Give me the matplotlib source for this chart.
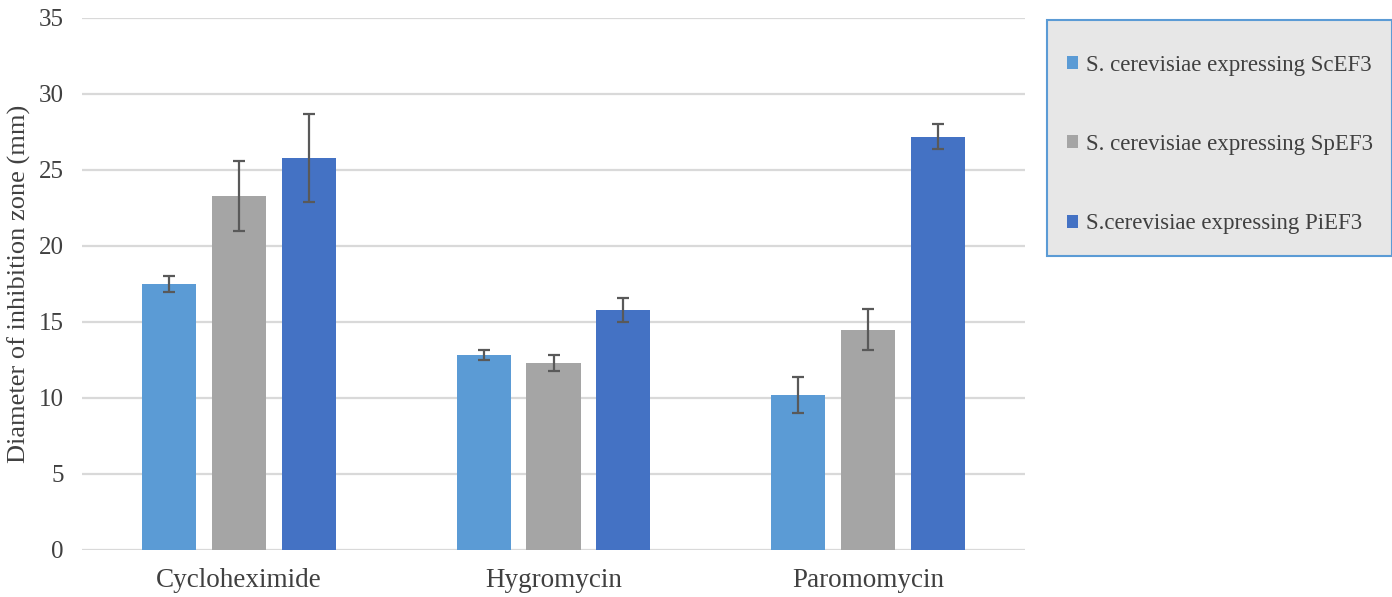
import matplotlib
matplotlib.use("Agg")
import matplotlib.pyplot as plt
from matplotlib.patches import Rectangle, Patch
import numpy as np

plt.rcParams["font.family"] = ["Liberation Serif", "DejaVu Serif"]

# data
categories = ["Cycloheximide", "Hygromycin", "Paromomycin"]
series = ["S. cerevisiae expressing ScEF3",
          "S. cerevisiae expressing SpEF3",
          "S.cerevisiae expressing PiEF3"]
sc_vals = [17.5, 12.8, 10.2]
sc_err = [0.5, 0.33, 1.2]
sp_vals = [23.3, 12.3, 14.5]
sp_err = [2.3, 0.55, 1.35]
pi_vals = [25.8, 15.8, 27.2]
pi_err = [2.9, 0.8, 0.8]
colors = ["#5B9BD5", "#A5A5A5", "#4472C4"]

fig = plt.figure(figsize=(13.92, 5.97), dpi=100)
ax = fig.add_axes([82 / 1392, 1 - 550 / 597, (1025 - 82) / 1392, (550 - 18) / 597])

x = np.arange(len(categories))
width = 0.172
step = 0.222
text_col = "#404040"

for i, (vals, errs) in enumerate([(sc_vals, sc_err), (sp_vals, sp_err), (pi_vals, pi_err)]):
    ax.bar(x + (i - 1) * step, vals, width, color=colors[i], zorder=2,
           yerr=errs, error_kw=dict(ecolor="#595959", elinewidth=1.6,
                                    capsize=4, capthick=1.6, zorder=3))

ax.set_xlim(-0.5, 2.5)
ax.set_ylim(0, 35)
ax.set_yticks(range(0, 36, 5))
ax.set_xticks(x)
ax.set_xticklabels(categories, fontsize=19.5)
ax.yaxis.grid(True, color="#d9d9d9", linewidth=1.6, zorder=0)
ax.set_axisbelow(True)
for s in ax.spines.values():
    s.set_visible(False)
ax.tick_params(axis="both", length=0, colors=text_col)
ax.tick_params(axis="x", pad=13)
ax.tick_params(axis="y", labelsize=18, pad=13)
ax.set_ylabel("Diameter of inhibition zone (mm)", fontsize=19, color=text_col)
ax.yaxis.set_label_coords(-0.054, 0.5)

# legend box
fig.patches.append(Rectangle((1047 / 1392, 1 - 256 / 597), (1392 - 1047) / 1392, (256 - 20) / 597,
                             transform=fig.transFigure, facecolor="#e7e7e7",
                             edgecolor="#5B9BD5", linewidth=1.5, zorder=0))
handles = [Patch(facecolor=c) for c in colors]
leg = fig.legend(handles, series, loc="upper left",
                 bbox_to_anchor=(1046 / 1392, 1 - 34 / 597), frameon=False,
                 fontsize=16.5, handlelength=0.5, handleheight=0.5,
                 handletextpad=0.35, labelspacing=2.55, labelcolor=text_col)

fig.savefig("out.png", dpi=100)
